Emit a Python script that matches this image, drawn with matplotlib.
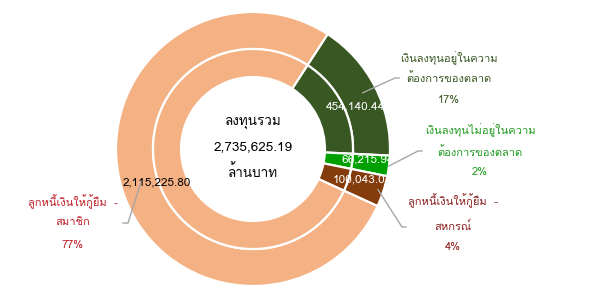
import numpy as np
import matplotlib
matplotlib.use("Agg")
import matplotlib.pyplot as plt

# data (million baht)
categories = [["เงินลงทุนอยู่ในความ", "ต้องการของตลาด"],
              ["เงินลงทุนไม่อยู่ในความ", "ต้องการของตลาด"],
              ["ลูกหนี้เงินให้กู้ยืม  -", "สหกรณ์"],
              ["ลูกหนี้เงินให้กู้ยืม  -", "สมาชิก"]]
values = [454140.44, 66215.94, 100043.01, 2115225.80]
value_labels = ["454,140.44", "66,215.94", "100,043.01", "2,115,225.80"]
pct_labels = ["17%", "2%", "4%", "77%"]
center_lines = ["ลงทุนรวม", "2,735,625.19", "ล้านบาท"]

colors = ["#385723", "#00A000", "#843C0C", "#F4B183"]
label_colors = ["#385723", "#1E9B1E", "#8B2020", "#C0202A"]
value_colors = ["white", "white", "white", "black"]

FONT = ["Loma", "DejaVu Sans"]
W, H = 598, 300
CX, CY, R = 253, 149, 137      # pie centre and radius in pixels


def px(x, y):
    # pixel position (from top-left) -> data coords (pie radius = 1)
    return (x - CX) / R, (CY - y) / R


fig = plt.figure(figsize=(W / 100, H / 100), dpi=100)
ax = fig.add_axes([0, 0, 1, 1])
ax.axis("off")

start = 57
wp = dict(edgecolor="white", linewidth=1.6)
outer, _ = ax.pie(values, radius=1.0, colors=colors, startangle=start,
                  counterclock=False, wedgeprops=dict(width=0.27, **wp))
inner, _ = ax.pie(values, radius=0.73, colors=colors, startangle=start,
                  counterclock=False, wedgeprops=dict(width=0.205, **wp))
ax.set_xlim(-CX / R, (W - CX) / R)
ax.set_ylim(-(H - CY) / R, CY / R)
ax.set_aspect("auto")

# value labels (layout positions in pixels)
value_pos = [(355, 106), (368, 159), (362, 179), (157, 182)]
for txt, c, p in zip(value_labels, value_colors, value_pos):
    ax.text(*px(*p), txt, color=c, fontsize=8.5, ha="center", va="center",
            family=FONT)

# category labels with leader lines
label_x = [449, 480, 453, 73]
label_y = [(58, 78, 100), (130, 152, 172), (201, 226, 247), (202, 222, 245)]
line_end = [(395, 78), (418, 151), (402, 227), (128, 223)]
line_dx = [4, 4, 4, -5]
line_r = [0.9, 1.0, 0.96, 0.85]
for i, w in enumerate(outer):
    a = np.deg2rad((w.theta1 + w.theta2) / 2)
    x0, y0 = line_r[i] * np.cos(a), line_r[i] * np.sin(a)
    ex, ey = line_end[i]
    x1, y1 = px(ex, ey)
    x2, _ = px(ex + line_dx[i], ey)
    ax.plot([x0, x1, x2], [y0, y1, y1], color="#A6A6A6", lw=1)
    lines = categories[i] + [pct_labels[i]]
    for txt, ly in zip(lines, label_y[i]):
        ax.text(*px(label_x[i], ly), txt, color=label_colors[i], fontsize=8,
                ha="center", va="center", family=FONT)

# total in the hole
for txt, ly in zip(center_lines, (123, 147, 172)):
    ax.text(*px(CX, ly), txt, fontsize=9.7, ha="center", va="center",
            family=FONT)

fig.savefig("out.png", dpi=100)
